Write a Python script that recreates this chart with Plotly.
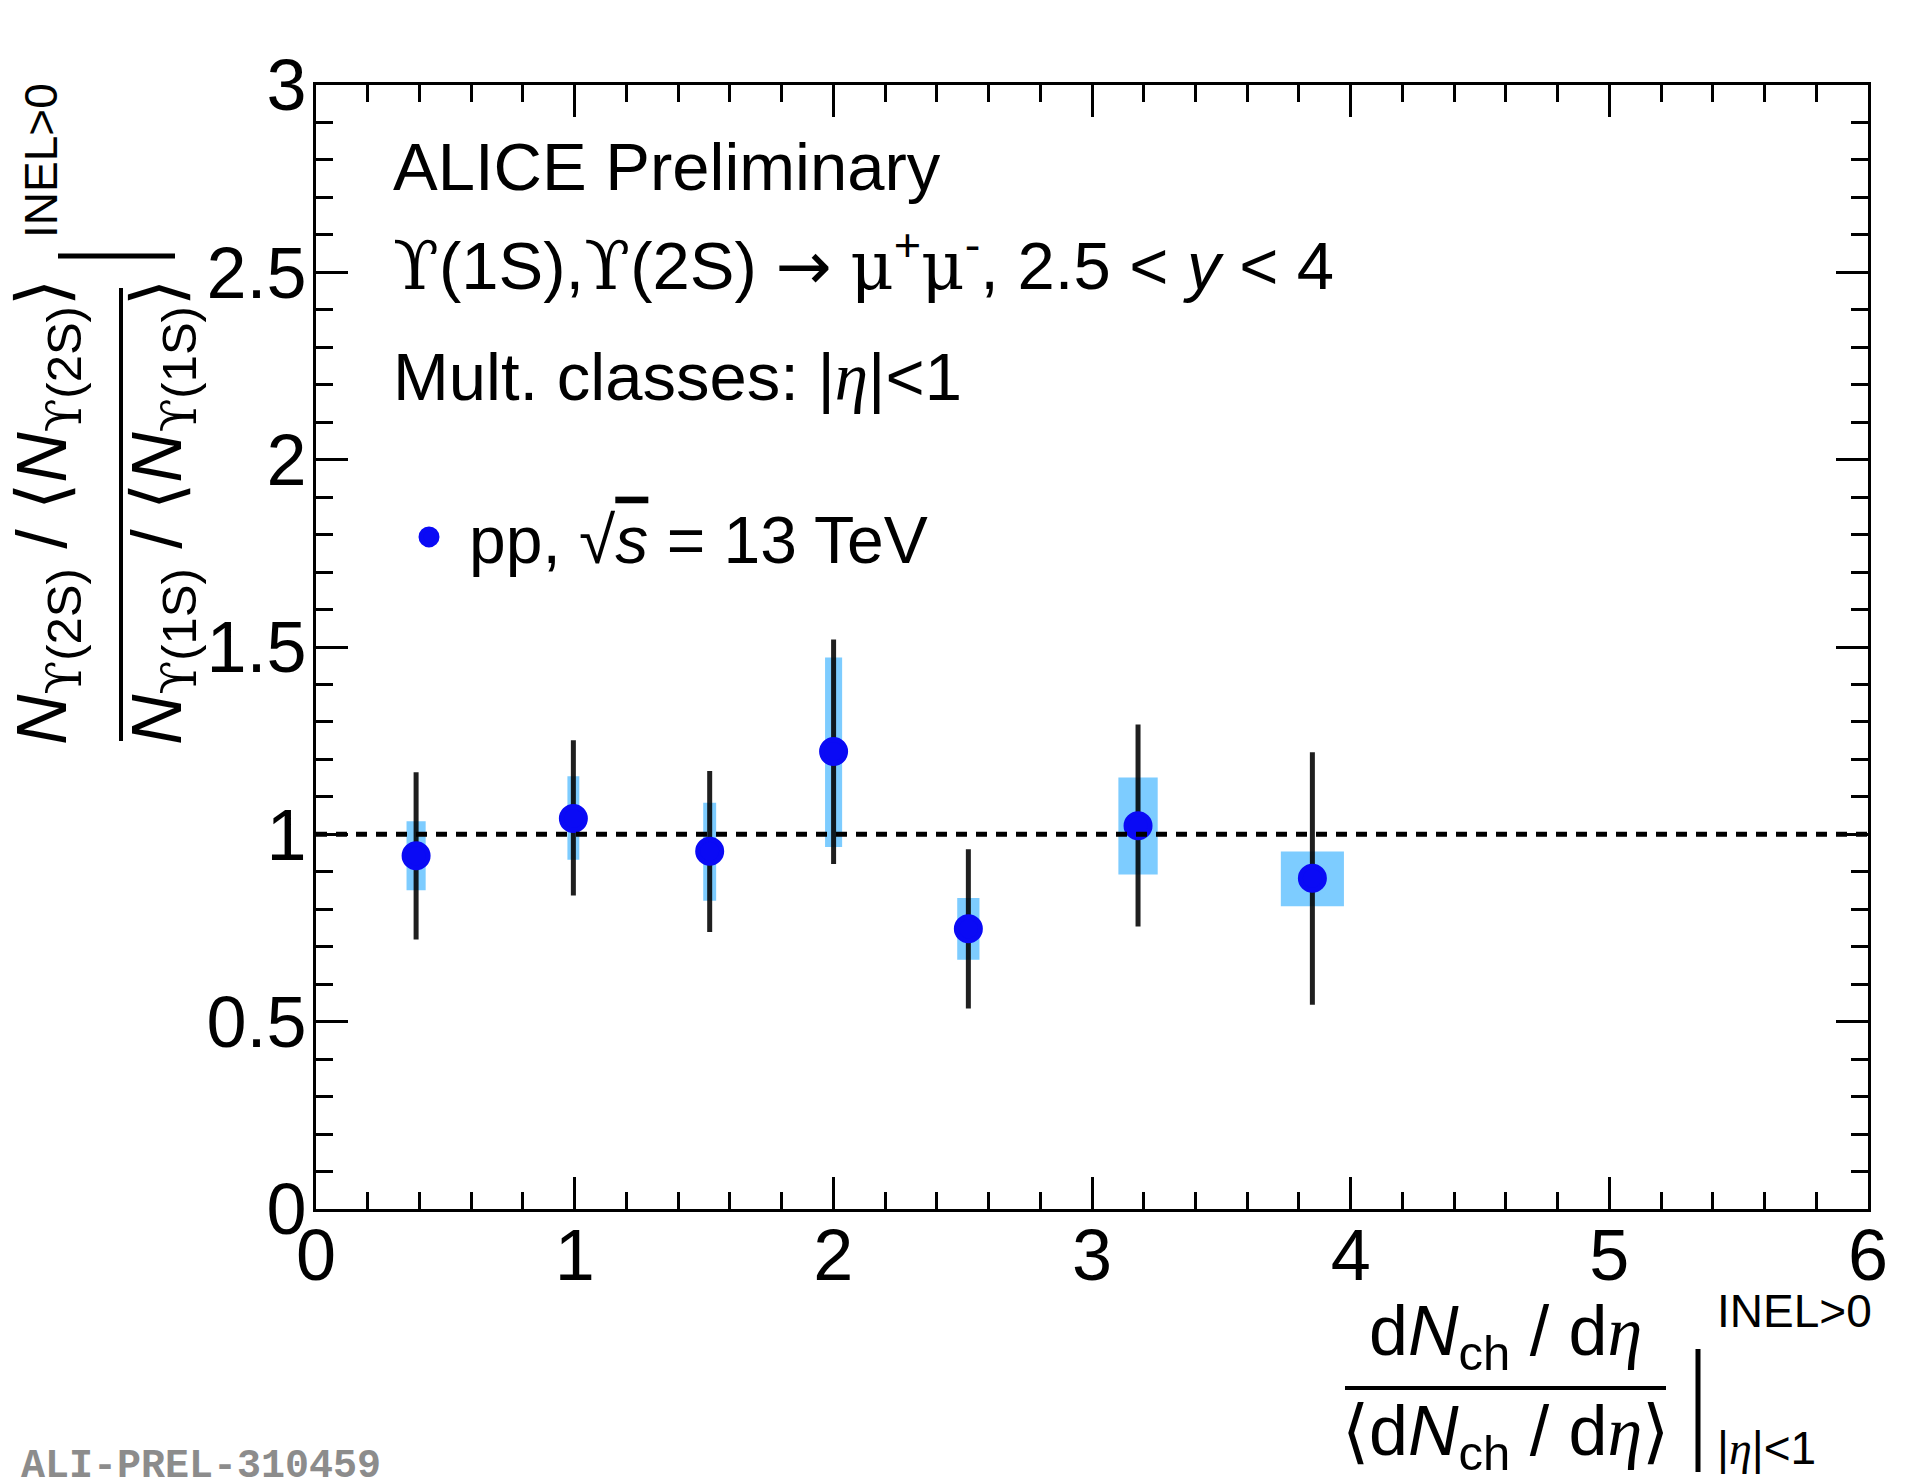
import plotly.graph_objects as go

# values (ALI-PREL-310459)
mult = [0.387, 0.995, 1.522, 2.001, 2.522, 3.178, 3.852]
ratio = [0.943, 1.042, 0.955, 1.221, 0.748, 1.023, 0.883]
stat_hi = [1.166, 1.251, 1.169, 1.520, 0.960, 1.293, 1.219]
stat_lo = [0.719, 0.837, 0.739, 0.921, 0.535, 0.754, 0.545]
sys_hi = [1.035, 1.155, 1.084, 1.472, 0.830, 1.152, 0.954]
sys_lo = [0.851, 0.932, 0.823, 0.966, 0.665, 0.893, 0.808]
mult_sys = [0.037, 0.023, 0.025, 0.033, 0.043, 0.076, 0.122]

ref_x = [0, 6]
ref_y = [1, 1]

x_ticks = [0, 1, 2, 3, 4, 5, 6]
x_ticktext = ["0", "1", "2", "3", "4", "5", "6"]
y_ticks = [0, 0.5, 1, 1.5, 2, 2.5, 3]
y_ticktext = ["0", "0.5", "1", "1.5", "2", "2.5", "3"]

W, H = 1920, 1481
L, R, T, B = 308, 1860, 77, 1201   # plot frame in pixels


def px(x):
    return (x - L) / (R - L)


def py(y):
    return (B - y) / (B - T)


FONT = "Liberation Sans"
BLUE = "rgb(10,10,245)"
SERIF = "<span style=\"font-family:'DejaVu Serif'\">%s</span>"
ETA = "<span style=\"font-family:'Liberation Serif'\"><i>η</i></span>"
UPS = SERIF % "ϒ"
MU = SERIF % "μ"
ARROW = "<span style=\"font-family:'DejaVu Sans'\">→</span>"
SQRT_S = "√<span style=\"text-decoration:overline\"><i>s</i></span>"

fig = go.Figure()

# systematic uncertainty boxes
fig.add_trace(go.Bar(
    x=mult,
    y=[h - l for h, l in zip(sys_hi, sys_lo)],
    base=sys_lo,
    width=[2 * w for w in mult_sys],
    marker=dict(color="rgb(125,204,255)", line=dict(width=0)),
    showlegend=False,
    hoverinfo="skip",
))

# points with statistical errors
fig.add_trace(go.Scatter(
    x=mult, y=ratio,
    mode="markers",
    name="pp, " + SQRT_S + " = 13 TeV",
    marker=dict(color=BLUE, size=24, line=dict(color=BLUE, width=5)),
    error_y=dict(
        type="data", symmetric=False,
        array=[h - r for h, r in zip(stat_hi, ratio)],
        arrayminus=[r - l for r, l in zip(ratio, stat_lo)],
        color="rgba(0,0,0,0.88)", thickness=5, width=0,
    ),
))

# reference line at unity
fig.add_trace(go.Scatter(
    x=ref_x, y=ref_y, mode="lines",
    line=dict(color="black", width=5, dash="11px,9px"),
    showlegend=False, hoverinfo="skip",
))

axis_common = dict(
    showline=True, linecolor="black", linewidth=3, mirror="allticks",
    ticks="inside", ticklen=32, tickwidth=3, tickcolor="black",
    showgrid=False, zeroline=False,
    tickfont=dict(family=FONT, size=72, color="black"),
)

fig.update_xaxes(range=[0, 6], tickvals=x_ticks, ticktext=x_ticktext,
                 minor=dict(dtick=0.2, ticks="inside", ticklen=17, tickwidth=3,
                            tickcolor="black", showgrid=False),
                 ticklabelstandoff=-18, **axis_common)
fig.update_yaxes(range=[0, 3], tickvals=y_ticks, ticktext=y_ticktext,
                 minor=dict(dtick=0.1, ticks="inside", ticklen=17, tickwidth=3,
                            tickcolor="black", showgrid=False),
                 ticklabelstandoff=-8, **axis_common)

annotations = []


def text(s, x, y, size, anchor="left", angle=0, color="black", family=FONT):
    annotations.append(dict(
        text=s, x=px(x), y=py(y), xref="paper", yref="paper",
        xanchor=anchor, yanchor="middle", showarrow=False, textangle=angle,
        borderpad=0, font=dict(family=family, size=size, color=color),
    ))


# header texts
text("ALICE Preliminary", 384, 158, 67)
text(UPS + "(1S)," + UPS + "(2S) " + ARROW + " " + MU + "<sup>+</sup>" + MU
     + "<sup>-</sup>, 2.5 &lt; <i>y</i> &lt; 4", 384, 254, 67)
text("Mult. classes: |" + ETA + "|&lt;1", 384, 368, 67)

# x axis title
text("d<i>N</i><sub>ch</sub> / d" + ETA, 1497, 1328, 70, anchor="center")
text("⟨d<i>N</i><sub>ch</sub> / d" + ETA + "⟩", 1497, 1428, 70, anchor="center")
text("INEL&gt;0", 1708, 1303, 46)
text("|" + ETA + "|&lt;1", 1708, 1440, 46)

# y axis title
text("<i>N</i><sub>" + UPS + "(2S)</sub> / ⟨<i>N</i><sub>" + UPS + "(2S)</sub>⟩",
     40, 504, 70, anchor="center", angle=-90)
text("<i>N</i><sub>" + UPS + "(1S)</sub> / ⟨<i>N</i><sub>" + UPS + "(1S)</sub>⟩",
     155, 504, 70, anchor="center", angle=-90)
text("INEL&gt;0", 33, 153, 46, anchor="center", angle=-90)

# figure label
text("<b>ALI-PREL-310459</b>", 12, 1458, 40, color="rgb(140,140,140)",
     family="Liberation Mono")

shapes = [
    # x title fraction bar and evaluation bar
    dict(type="line", xref="paper", yref="paper", x0=px(1337), x1=px(1658),
         y0=py(1380), y1=py(1380), line=dict(color="black", width=4)),
    dict(type="line", xref="paper", yref="paper", x0=px(1690), x1=px(1690),
         y0=py(1341), y1=py(1464), line=dict(color="black", width=5)),
    # y title fraction bar and evaluation bar
    dict(type="line", xref="paper", yref="paper", x0=px(113), x1=px(113),
         y0=py(280), y1=py(733), line=dict(color="black", width=4)),
    dict(type="line", xref="paper", yref="paper", x0=px(50), x1=px(167),
         y0=py(248), y1=py(248), line=dict(color="black", width=5)),
]

fig.update_layout(
    width=W, height=H,
    margin=dict(l=L, r=W - R, t=T, b=H - B),
    paper_bgcolor="white", plot_bgcolor="white",
    barmode="overlay",
    font=dict(family=FONT, color="black"),
    annotations=annotations,
    shapes=shapes,
    legend=dict(x=px(381), y=py(529), xanchor="left", yanchor="middle",
                font=dict(family=FONT, size=66), bgcolor="rgba(0,0,0,0)",
                itemsizing="trace", itemwidth=70),
    showlegend=True,
)

fig.write_html("out.html")
